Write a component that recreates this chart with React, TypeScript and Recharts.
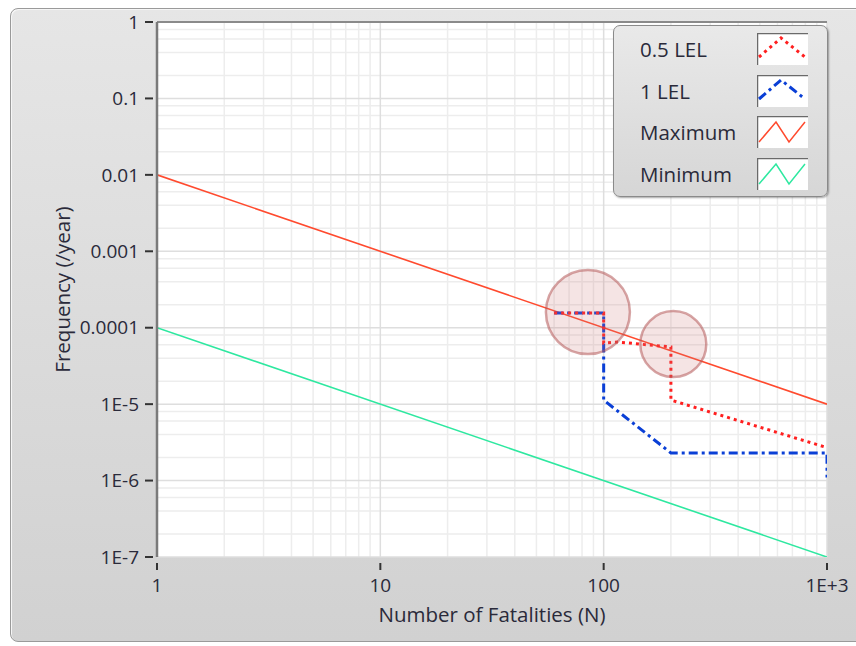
import React from 'react';
import {
  LineChart,
  Line,
  XAxis,
  YAxis,
  CartesianGrid,
  ReferenceLine,
  ReferenceDot,
  Label,
} from 'recharts';

// axes
const xTicks = [1, 10, 100, 1000];
const xTickLabels = ['1', '10', '100', '1E+3'];
const yTicks = [1e-7, 1e-6, 1e-5, 1e-4, 1e-3, 0.01, 0.1, 1];
const yTickLabels = ['1E-7', '1E-6', '1E-5', '0.0001', '0.001', '0.01', '0.1', '1'];
const xDecades = [1, 10, 100];
const xMinorSteps = [2, 3, 4, 5, 6, 7, 8, 9];
const yDecades = [1e-7, 1e-6, 1e-5, 1e-4, 1e-3, 0.01, 0.1];
const yMinorSteps = [2, 4, 6, 8];

// series
const maximumLine = [
  { n: 1, f: 0.01 },
  { n: 1000, f: 1e-5 },
];
const minimumLine = [
  { n: 1, f: 1e-4 },
  { n: 1000, f: 1e-7 },
];
const lel05 = [
  { n: 60, f: 1.56e-4 },
  { n: 100, f: 1.56e-4 },
  { n: 100, f: 6.3e-5 },
  { n: 115, f: 6.5e-5 },
  { n: 200, f: 5.6e-5 },
  { n: 200, f: 1.13e-5 },
  { n: 1000, f: 2.7e-6 },
];
const lel1 = [
  { n: 60, f: 1.56e-4 },
  { n: 100, f: 1.56e-4 },
  { n: 100, f: 1.13e-5 },
  { n: 200, f: 2.3e-6 },
  { n: 1000, f: 2.3e-6 },
  { n: 1000, f: 1.1e-6 },
];
// highlight circles
const highlights = [
  { n: 85, f: 1.6e-4, r: 42 },
  { n: 205, f: 6.1e-5, r: 33 },
];

const legendItems = [
  { name: '0.5 LEL', color: '#ff1f1f', dash: '3 4', width: 3, shape: 'peak' },
  { name: '1 LEL', color: '#0a3fd6', dash: '9 4 3 4', width: 3, shape: 'peak' },
  { name: 'Maximum', color: '#ff4a2e', dash: undefined, width: 1.5, shape: 'zig' },
  { name: 'Minimum', color: '#2ee8a0', dash: undefined, width: 1.5, shape: 'zig' },
];

const FONT = '"Open Sans", "Noto Sans", "DejaVu Sans", sans-serif';
const TEXT = '#2a2a3a';

const XTick = (props: any) => {
  const { x, y, payload } = props;
  const i = xTicks.indexOf(payload.value);
  return (
    <g>
      <line x1={x} x2={x} y1={y + 6} y2={y + 13} stroke="#333" strokeWidth={2} />
      <text x={x} y={y + 35} textAnchor="middle" fontSize={19} fontFamily={FONT} fill={TEXT}>
        {xTickLabels[i]}
      </text>
    </g>
  );
};

const YTick = (props: any) => {
  const { x, y, payload } = props;
  const i = yTicks.findIndex(t => Math.abs(Math.log10(t) - Math.log10(payload.value)) < 1e-6);
  return (
    <g>
      <line x1={x - 12} x2={x - 4} y1={y} y2={y} stroke="#333" strokeWidth={2} />
      <text x={x - 18} y={y} dy="0.35em" textAnchor="end" fontSize={19} fontFamily={FONT} fill={TEXT}>
        {yTickLabels[i]}
      </text>
    </g>
  );
};

const Swatch = ({ item }: { item: (typeof legendItems)[number] }) => {
  const pts = item.shape === 'peak' ? '2,24 24,5 48,24' : '2,26 19,6 32,26 48,6';
  return (
    <svg width={51} height={32} style={{ display: 'block' }}>
      <rect x={0} y={0} width={51} height={32} fill="#fff" />
      <path d="M0.5,32 V0.5 H51" fill="none" stroke="#6a6a6a" strokeWidth={1.5} />
      <polyline
        points={pts}
        fill="none"
        stroke={item.color}
        strokeWidth={item.width}
        strokeDasharray={item.dash}
      />
    </svg>
  );
};

export default function App() {
  return (
    <div style={{ position: 'absolute', left: 0, top: 0, width: 856, height: 646, background: '#fff', overflow: 'hidden' }}>
      <div
        style={{
          position: 'absolute',
          left: 10,
          top: 8,
          width: 880,
          height: 632,
          border: '1px solid #9a9a9a',
          borderRadius: 8,
          background: 'linear-gradient(#e6e6e6, #d1d1d1)',
          boxShadow: 'inset 1px 1px 0 #f6f6f6',
        }}
      />
      <div style={{ position: 'absolute', left: 0, top: 0 }}>
        <LineChart width={856} height={646} margin={{ top: 22, right: 29, bottom: 0, left: 0 }}>
          <CartesianGrid fill="#ffffff" horizontal={false} vertical={false} />
          {xDecades.flatMap(d =>
            xMinorSteps.map(m => (
              <ReferenceLine key={`xm-${d * m}`} x={d * m} stroke="#ededed" strokeWidth={1.5} />
            )),
          )}
          {yDecades.flatMap(d =>
            yMinorSteps.map(m => (
              <ReferenceLine key={`ym-${d * m}`} y={d * m} stroke="#ededed" strokeWidth={1.5} />
            )),
          )}
          {xTicks.map(t => (
            <ReferenceLine key={`xM-${t}`} x={t} stroke="#dedede" strokeWidth={1.5} />
          ))}
          {yTicks.map(t => (
            <ReferenceLine key={`yM-${t}`} y={t} stroke="#dedede" strokeWidth={1.5} />
          ))}
          <ReferenceLine y={1} stroke="#8a8a8a" strokeWidth={2} />
          <XAxis
            dataKey="n"
            type="number"
            scale="log"
            domain={[1, 1000]}
            ticks={xTicks}
            allowDataOverflow
            height={89}
            tickSize={0}
            tickMargin={0}
            axisLine={false}
            tickLine={false}
            tick={<XTick />}
            interval={0}
          >
            <Label
              content={({ viewBox }: any) => (
                <text
                  x={viewBox.x + viewBox.width / 2}
                  y={viewBox.y + 65}
                  textAnchor="middle"
                  fontSize={20.5}
                  fontFamily={FONT}
                  fill={TEXT}
                >
                  Number of Fatalities (N)
                </text>
              )}
            />
          </XAxis>
          <YAxis
            type="number"
            scale="log"
            domain={[1e-7, 1]}
            ticks={yTicks}
            allowDataOverflow
            width={157}
            tickSize={0}
            tickMargin={0}
            axisLine={{ stroke: '#7a7a7a', strokeWidth: 2.5 }}
            tickLine={false}
            tick={<YTick />}
            interval={0}
          >
            <Label
              content={({ viewBox }: any) => {
                const cx = 62;
                const cy = viewBox.y + viewBox.height / 2;
                return (
                  <text
                    x={cx}
                    y={cy}
                    transform={`rotate(-90 ${cx} ${cy})`}
                    textAnchor="middle"
                    dominantBaseline="central"
                    fontSize={20.5}
                    fontFamily={FONT}
                    fill={TEXT}
                  >
                    Frequency (/year)
                  </text>
                );
              }}
            />
          </YAxis>
          <Line data={maximumLine} dataKey="f" stroke="#ff4a2e" strokeWidth={1.6} dot={false} isAnimationActive={false} />
          <Line data={minimumLine} dataKey="f" stroke="#2ee8a0" strokeWidth={1.6} dot={false} isAnimationActive={false} />
          <Line
            data={lel1}
            dataKey="f"
            stroke="#0a3fd6"
            strokeWidth={3}
            strokeDasharray="9 4 3 4"
            dot={false}
            isAnimationActive={false}
          />
          <Line
            data={lel05}
            dataKey="f"
            stroke="#ff1f1f"
            strokeWidth={3}
            strokeDasharray="3 4"
            dot={false}
            isAnimationActive={false}
          />
          {highlights.map(h => (
            <ReferenceDot
              key={`h-${h.n}`}
              x={h.n}
              y={h.f}
              r={h.r}
              fill="rgba(205,120,120,0.2)"
              stroke="rgba(180,90,90,0.55)"
              strokeWidth={2.5}
            />
          ))}
        </LineChart>
      </div>
      <div
        style={{
          position: 'absolute',
          left: 613,
          top: 25,
          width: 213,
          height: 170,
          border: '1px solid #8a8a8a',
          borderRadius: 7,
          background: 'linear-gradient(#e9e9e9, #d6d6d6)',
          boxShadow: '1px 1px 2px rgba(0,0,0,0.35)',
          fontFamily: FONT,
          color: TEXT,
        }}
      >
        {legendItems.map((item, i) => (
          <div key={item.name} style={{ position: 'absolute', left: 0, top: 7 + i * 41.5, width: 213, height: 32 }}>
            <div style={{ position: 'absolute', left: 26, top: 0, lineHeight: '32px', fontSize: 20.5 }}>{item.name}</div>
            <div style={{ position: 'absolute', left: 143, top: 0 }}>
              <Swatch item={item} />
            </div>
          </div>
        ))}
      </div>
    </div>
  );
}
